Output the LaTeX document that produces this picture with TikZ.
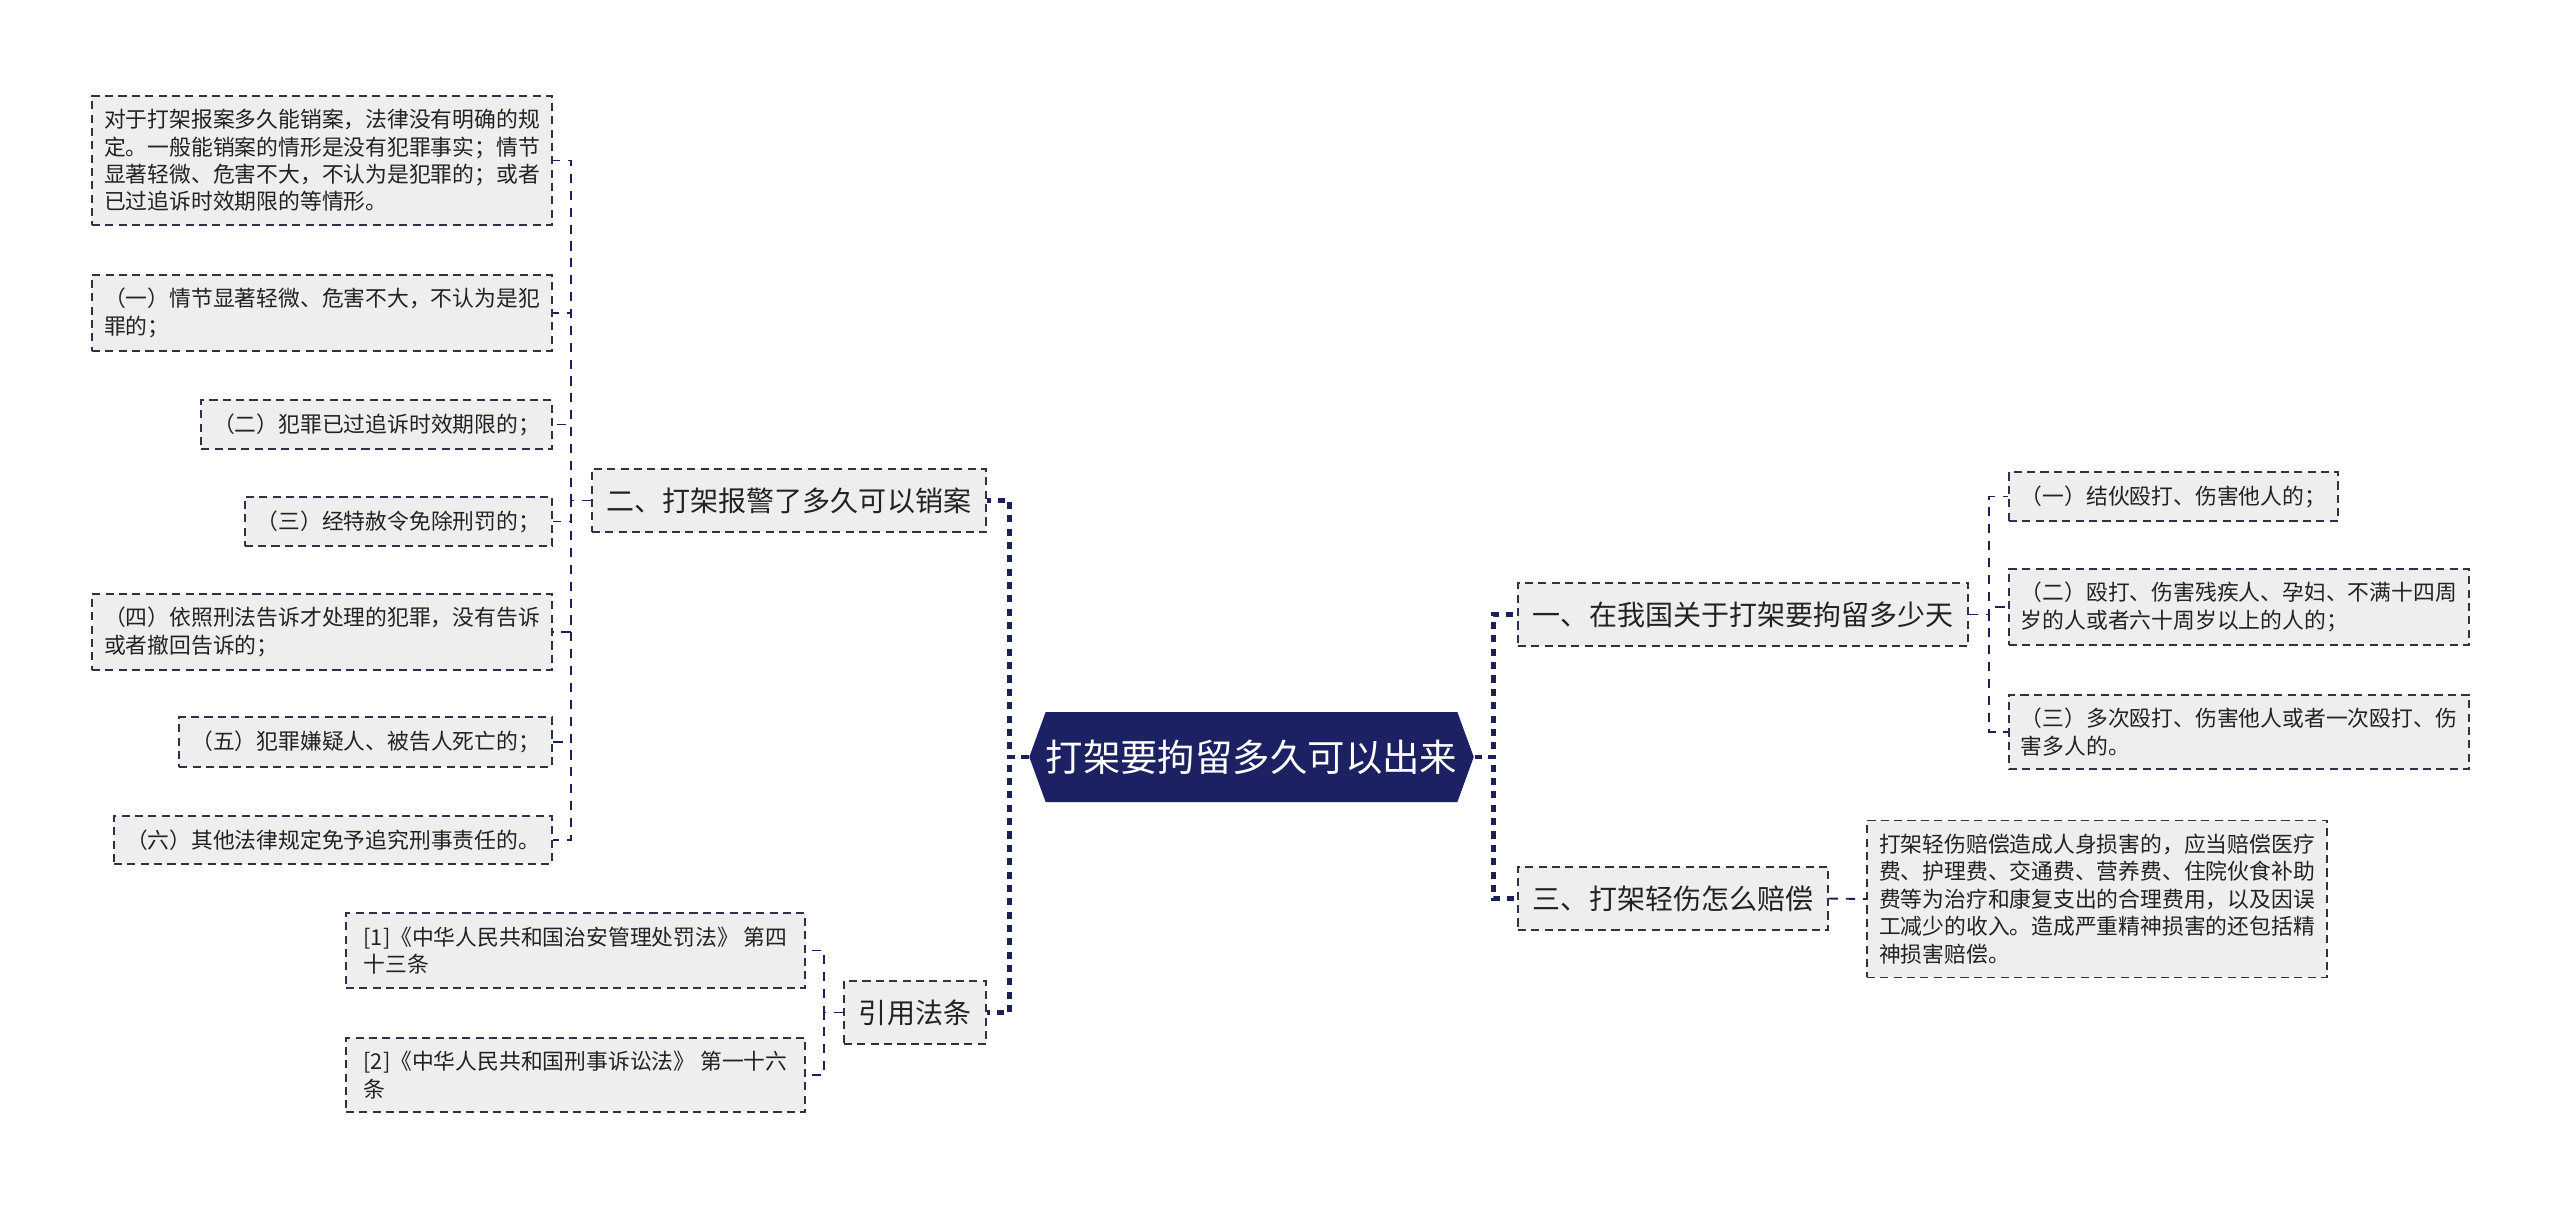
\documentclass[tikz,border=0pt]{standalone}
\usepackage{fontspec}
\newfontfamily\cjk{Noto Sans CJK SC}
\usetikzlibrary{shapes.symbols}
\definecolor{rootnavy}{HTML}{1B2162}
\definecolor{linknavy}{HTML}{1B2158}
\definecolor{boxline}{HTML}{2E3148}
\definecolor{boxfill}{HTML}{EEEEEE}
\definecolor{txt}{HTML}{222222}
\tikzset{
  leaf/.style={draw=boxline,fill=boxfill,line width=0.55pt,dash pattern=on 2.3pt off 1.5pt,
    font=\cjk\fontsize{6.2}{7.8}\selectfont,text=txt,align=left,inner xsep=0.12cm,inner ysep=0.135cm},
  topic/.style={leaf,font=\cjk\fontsize{7.97}{9.5}\selectfont,inner xsep=0.15cm,inner ysep=0.185cm},
  centre/.style={signal,signal to=west and east,signal pointer angle=140,fill=rootnavy,text=white,
    font=\cjk\fontsize{10.65}{13}\selectfont,minimum width=4.19cm,minimum height=0.9cm,inner sep=0pt},
  rootlink/.style={draw=linknavy,line width=1.3pt,dash pattern=on 2pt off 1.8pt},
  link/.style={draw=linknavy,line width=0.55pt,dash pattern=on 2.6pt off 2.2pt}
}
\begin{document}
\begin{tikzpicture}
  \useasboundingbox (0,0) rectangle (25.6,12.08);
  \node[centre] (root) at (12.515,4.51) {打架要拘留多久可以出来};
  \node[topic,anchor=east] (q2) at (9.87,7.075) {二、打架报警了多久可以销案};
  \node[topic,anchor=east] (law) at (9.87,1.955) {引用法条};
  \node[topic,anchor=west] (q1) at (15.17,5.935) {一、在我国关于打架要拘留多少天};
  \node[topic,anchor=west] (q3) at (15.17,3.095) {三、打架轻伤怎么赔偿};
  \node[leaf,anchor=east,minimum width=4.6cm] (a1) at (5.53,10.475) {对于打架报案多久能销案，法律没有明确的规\\定。一般能销案的情形是没有犯罪事实；情节\\显著轻微、危害不大，不认为是犯罪的；或者\\已过追诉时效期限的等情形。};
  \node[leaf,anchor=east,minimum width=4.6cm] (a2) at (5.53,8.95) {（一）情节显著轻微、危害不大，不认为是犯\\罪的；};
  \node[leaf,anchor=east] (a3) at (5.53,7.835) {（二）犯罪已过追诉时效期限的；};
  \node[leaf,anchor=east] (a4) at (5.53,6.865) {（三）经特赦令免除刑罚的；};
  \node[leaf,anchor=east,minimum width=4.6cm] (a5) at (5.53,5.76) {（四）依照刑法告诉才处理的犯罪，没有告诉\\或者撤回告诉的；};
  \node[leaf,anchor=east] (a6) at (5.53,4.66) {（五）犯罪嫌疑人、被告人死亡的；};
  \node[leaf,anchor=east] (a7) at (5.53,3.68) {（六）其他法律规定免予追究刑事责任的。};
  \node[leaf,anchor=east,minimum width=4.59cm] (c1) at (8.06,2.575) {[1]《中华人民共和国治安管理处罚法》 第四\\十三条};
  \node[leaf,anchor=east,minimum width=4.59cm] (c2) at (8.06,1.33) {[2]《中华人民共和国刑事诉讼法》 第一十六\\条};
  \node[leaf,anchor=west] (b1) at (20.08,7.115) {（一）结伙殴打、伤害他人的；};
  \node[leaf,anchor=west,minimum width=4.59cm] (b2) at (20.08,6.01) {（二）殴打、伤害残疾人、孕妇、不满十四周\\岁的人或者六十周岁以上的人的；};
  \node[leaf,anchor=west,minimum width=4.59cm] (b3) at (20.08,4.76) {（三）多次殴打、伤害他人或者一次殴打、伤\\害多人的。};
  \node[leaf,anchor=west,minimum width=4.6cm] (d1) at (18.66,3.09) {打架轻伤赔偿造成人身损害的，应当赔偿医疗\\费、护理费、交通费、营养费、住院伙食补助\\费等为治疗和康复支出的合理费用，以及因误\\工减少的收入。造成严重精神损害的还包括精\\神损害赔偿。};
  \draw[rootlink] (root.west) -- ++(-0.19,0) |- (q2.east);
  \draw[rootlink] (root.west) -- ++(-0.19,0) |- (law.east);
  \draw[rootlink] (root.east) -- ++(0.19,0) |- (q1.west);
  \draw[rootlink] (root.east) -- ++(0.19,0) |- (q3.west);
  \foreach \n in {a1,a2,a3,a4,a5,a6,a7}
    \draw[link] (q2.west) -- ++(-0.2,0) |- (\n.east);
  \foreach \n in {c1,c2}
    \draw[link] (law.west) -- ++(-0.19,0) |- (\n.east);
  \foreach \n in {b1,b2,b3}
    \draw[link] (q1.east) -- ++(0.2,0) |- (\n.west);
  \draw[link] (q3.east) -- (d1.west);
\end{tikzpicture}
\end{document}
